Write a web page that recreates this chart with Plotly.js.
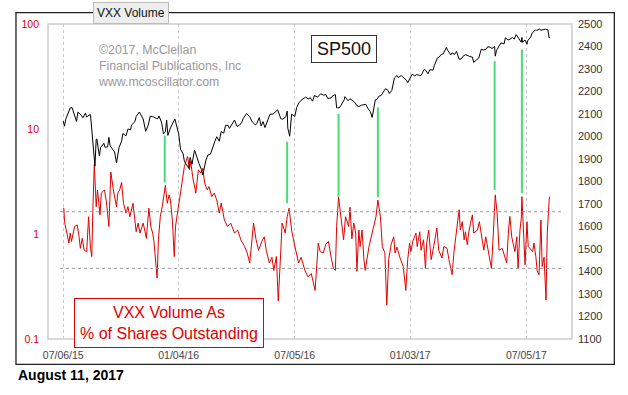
<!DOCTYPE html>
<html>
<head>
<meta charset="utf-8">
<script src="https://cdn.plot.ly/plotly-3.0.1.min.js"></script>
<style>
html,body{margin:0;padding:0;background:#fff;}
#chart{width:628px;height:395px;}
</style>
</head>
<body>
<div id="chart"></div>
<script>
// ---- S&P 500 (right axis) ----
const spxDates = ["2015-07-06","2015-07-08","2015-07-10","2015-07-14","2015-07-17","2015-07-20","2015-07-23","2015-07-27","2015-07-29","2015-07-31",
"2015-08-04","2015-08-06","2015-08-10","2015-08-12","2015-08-14","2015-08-18","2015-08-20","2015-08-21","2015-08-24","2015-08-25","2015-08-27","2015-08-28",
"2015-09-01","2015-09-03","2015-09-08","2015-09-10","2015-09-14","2015-09-16","2015-09-18","2015-09-22","2015-09-25","2015-09-28","2015-09-30",
"2015-10-02","2015-10-06","2015-10-08","2015-10-13","2015-10-16","2015-10-20","2015-10-22","2015-10-27","2015-10-29",
"2015-11-03","2015-11-05","2015-11-09","2015-11-13","2015-11-17","2015-11-20","2015-11-24","2015-11-30",
"2015-12-02","2015-12-04","2015-12-08","2015-12-11","2015-12-14","2015-12-16","2015-12-18","2015-12-22","2015-12-29",
"2016-01-04","2016-01-07","2016-01-11","2016-01-13","2016-01-15","2016-01-20","2016-01-22","2016-01-25","2016-01-29",
"2016-02-02","2016-02-05","2016-02-09","2016-02-11","2016-02-16","2016-02-19","2016-02-23","2016-02-26",
"2016-03-01","2016-03-04","2016-03-08","2016-03-11","2016-03-15","2016-03-18","2016-03-22","2016-03-24","2016-03-29",
"2016-04-01","2016-04-05","2016-04-08","2016-04-12","2016-04-15","2016-04-20","2016-04-25","2016-04-29",
"2016-05-04","2016-05-06","2016-05-10","2016-05-13","2016-05-16","2016-05-19","2016-05-24","2016-05-27",
"2016-06-01","2016-06-08","2016-06-13","2016-06-16","2016-06-21","2016-06-23","2016-06-24","2016-06-27","2016-06-30",
"2016-07-05","2016-07-08","2016-07-12","2016-07-15","2016-07-20","2016-07-22","2016-07-27","2016-07-29",
"2016-08-02","2016-08-05","2016-08-10","2016-08-15","2016-08-19","2016-08-23","2016-08-26","2016-08-31",
"2016-09-02","2016-09-07","2016-09-09","2016-09-13","2016-09-16","2016-09-21","2016-09-22","2016-09-27","2016-09-30",
"2016-10-05","2016-10-07","2016-10-11","2016-10-14","2016-10-18","2016-10-21","2016-10-25","2016-10-28",
"2016-11-01","2016-11-04","2016-11-07","2016-11-09","2016-11-11","2016-11-15","2016-11-18","2016-11-22","2016-11-25","2016-11-29",
"2016-12-01","2016-12-05","2016-12-07","2016-12-09","2016-12-13","2016-12-15","2016-12-20","2016-12-23","2016-12-28","2016-12-30",
"2017-01-04","2017-01-06","2017-01-10","2017-01-13","2017-01-18","2017-01-20","2017-01-25","2017-01-27","2017-01-31",
"2017-02-03","2017-02-08","2017-02-10","2017-02-15","2017-02-17","2017-02-21","2017-02-24",
"2017-03-01","2017-03-03","2017-03-08","2017-03-10","2017-03-14","2017-03-17","2017-03-21","2017-03-24","2017-03-28","2017-03-31",
"2017-04-04","2017-04-07","2017-04-11","2017-04-13","2017-04-18","2017-04-21","2017-04-25","2017-04-28",
"2017-05-03","2017-05-05","2017-05-09","2017-05-12","2017-05-16","2017-05-17","2017-05-19","2017-05-24","2017-05-26","2017-05-31",
"2017-06-02","2017-06-06","2017-06-09","2017-06-13","2017-06-16","2017-06-19","2017-06-23","2017-06-27","2017-06-28","2017-06-29",
"2017-07-03","2017-07-06","2017-07-07","2017-07-12","2017-07-14","2017-07-19","2017-07-21","2017-07-26","2017-07-28",
"2017-08-01","2017-08-04","2017-08-08","2017-08-10","2017-08-11"];
const spxValues = [2068,2046,2077,2108,2127,2128,2102,2067,2108,2104,
2093,2083,2104,2086,2092,2097,2036,1971,1893,1868,1988,1989,
1914,1951,1970,1952,1954,1996,1958,1943,1931,1882,1920,
1951,1979,2013,2003,2033,2030,2052,2066,2089,
2109,2099,2078,2023,2050,2089,2089,2080,
2079,2091,2063,2012,2021,2073,2005,2038,2078,
2012,1943,1923,1890,1880,1859,1907,1877,1940,
1903,1880,1852,1829,1895,1918,1921,1948,
1978,1999,1979,2022,2015,2050,2049,2036,2056,
2073,2045,2048,2061,2081,2102,2088,2065,
2051,2057,2084,2047,2066,2040,2077,2099,
2100,2119,2079,2077,2088,2113,2037,2001,2099,
2089,2129,2152,2161,2173,2175,2166,2173,
2157,2182,2175,2190,2184,2186,2169,2171,
2179,2186,2128,2127,2139,2163,2177,2159,2168,
2160,2153,2137,2133,2139,2141,2143,2126,
2111,2085,2132,2163,2164,2180,2182,2203,2213,2205,
2191,2205,2241,2260,2271,2262,2271,2264,2250,2239,
2270,2277,2269,2275,2272,2271,2298,2295,2279,
2297,2295,2316,2350,2351,2365,2367,
2396,2383,2363,2372,2365,2378,2344,2344,2359,2363,
2360,2355,2353,2329,2342,2349,2388,2384,
2389,2399,2397,2391,2400,2357,2382,2404,2416,2412,
2439,2429,2432,2440,2433,2453,2438,2419,2440,2419,
2429,2410,2425,2443,2459,2473,2472,2477,2472,
2476,2477,2474,2438,2441];

// ---- VXX volume as % of shares outstanding (left log axis) ----
const vxxDates = [
"2015-07-06","2015-07-07","2015-07-08","2015-07-15","2015-07-17","2015-07-19","2015-07-24","2015-07-28","2015-07-31","2015-08-02",
"2015-08-05","2015-08-08","2015-08-12","2015-08-15","2015-08-18","2015-08-20","2015-08-22","2015-08-24","2015-08-27","2015-08-29",
"2015-09-02","2015-09-04","2015-09-09","2015-09-12","2015-09-16","2015-09-19","2015-09-23","2015-09-24","2015-09-28","2015-09-30",
"2015-10-03","2015-10-06","2015-10-09","2015-10-13","2015-10-16","2015-10-19","2015-10-24","2015-10-29","2015-11-01","2015-11-04",
"2015-11-09","2015-11-12","2015-11-14","2015-11-18","2015-11-21","2015-11-24","2015-11-26","2015-12-01","2015-12-03","2015-12-06",
"2015-12-09","2015-12-14","2015-12-17","2015-12-20","2015-12-22","2015-12-25","2015-12-28","2015-12-30","2016-01-05","2016-01-08",
"2016-01-13","2016-01-18","2016-01-21","2016-01-23","2016-01-26","2016-01-31","2016-02-04","2016-02-08","2016-02-11","2016-02-14",
"2016-02-18","2016-02-21","2016-02-25","2016-02-29","2016-03-04","2016-03-08","2016-03-11","2016-03-16","2016-03-21","2016-03-26",
"2016-04-01","2016-04-06","2016-04-11","2016-04-17","2016-04-21","2016-04-25","2016-04-28","2016-05-01","2016-05-05","2016-05-09",
"2016-05-14","2016-05-18","2016-05-21","2016-05-26","2016-05-30","2016-06-02","2016-06-06","2016-06-09","2016-06-13","2016-06-15",
"2016-06-20","2016-06-23","2016-06-26","2016-06-30","2016-07-04","2016-07-11","2016-07-15","2016-07-21","2016-07-26","2016-07-31",
"2016-08-06","2016-08-09","2016-08-11","2016-08-14","2016-08-19","2016-08-23","2016-08-27","2016-09-01","2016-09-04","2016-09-07",
"2016-09-09","2016-09-12","2016-09-16","2016-09-20","2016-09-23","2016-09-28","2016-09-30","2016-10-03","2016-10-06","2016-10-09",
"2016-10-11","2016-10-14","2016-10-16","2016-10-19","2016-10-22","2016-10-24","2016-10-30","2016-11-04","2016-11-10","2016-11-13",
"2016-11-17","2016-11-20","2016-11-24","2016-11-27","2016-11-30","2016-12-04","2016-12-08","2016-12-10","2016-12-13","2016-12-18",
"2016-12-23","2016-12-27","2016-12-30","2017-01-02","2017-01-04","2017-01-07","2017-01-12","2017-01-14","2017-01-18","2017-01-20",
"2017-01-24","2017-01-27","2017-01-29","2017-02-01","2017-02-05","2017-02-09","2017-02-14","2017-02-17","2017-02-22","2017-02-25",
"2017-03-02","2017-03-05","2017-03-10","2017-03-13","2017-03-18","2017-03-21","2017-03-23","2017-03-26","2017-03-29","2017-03-31",
"2017-04-03","2017-04-05","2017-04-08","2017-04-11","2017-04-13","2017-04-19","2017-04-22","2017-04-26","2017-04-29","2017-05-02",
"2017-05-05","2017-05-11","2017-05-14","2017-05-16","2017-05-17","2017-05-20","2017-05-23","2017-05-28","2017-06-04","2017-06-07",
"2017-06-09","2017-06-12","2017-06-17","2017-06-20","2017-06-22","2017-06-25","2017-06-27","2017-06-28","2017-06-30","2017-07-03",
"2017-07-06","2017-07-08","2017-07-15","2017-07-17","2017-07-20","2017-07-22","2017-07-25","2017-07-28","2017-07-30","2017-08-02",
"2017-08-05","2017-08-07","2017-08-10","2017-08-11"];
const vxxValues = [
1.76,1.76,1.31,0.82,1.02,0.85,1.18,1.22,0.94,0.73,
0.91,0.70,0.68,1.46,0.73,0.61,1.96,4.6,1.82,2.63,
1.52,2.45,2.63,2.04,1.18,3.9,2.63,2.45,1.82,2.45,
2.63,3.1,1.96,1.58,1.82,1.46,1.96,1.05,1.27,1.02,
1.27,1.05,0.91,1.76,1.18,1.02,0.85,0.38,0.88,1.46,
1.82,2.9,1.96,2.36,2.1,1.36,0.61,1.18,2.11,2.94,
4.39,5.47,4.08,4.9,3.52,2.45,4.08,3.8,4.24,3.05,
2.63,2.83,2.27,2.45,2.11,1.58,1.97,1.36,1.18,1.27,
1.02,1.09,0.88,0.76,0.66,0.53,0.82,1.27,0.88,0.70,
0.85,0.94,0.70,0.53,0.6,0.45,0.61,0.23,0.70,1.27,
1.02,1.46,1.76,1.09,0.82,0.53,0.6,0.45,0.39,0.42,
0.29,0.57,0.82,0.68,0.66,0.8,0.85,0.57,0.47,0.45,
1.18,2.25,1.46,0.88,1.46,1.18,1.8,0.9,1.27,1.02,
0.44,1.09,0.76,1.09,0.57,0.45,0.76,1.02,1.46,2.11,
1.46,0.76,0.66,0.21,0.57,0.8,0.94,0.66,0.75,0.59,
0.49,0.29,0.57,0.82,0.68,0.85,1.02,0.76,1.05,0.70,
0.88,0.47,0.82,1.09,0.57,0.76,1.14,0.70,0.59,0.76,
0.73,0.57,0.41,0.68,1.18,1.70,1.09,1.31,0.88,1.05,
0.79,1.02,1.27,1.52,1.02,1.09,1.31,0.88,0.70,0.94,
0.76,0.47,1.02,1.89,2.36,1.58,0.70,0.73,0.53,1.09,
1.47,0.94,0.68,0.94,0.47,1.09,1.4,2.27,1.27,0.51,
1.31,0.76,0.68,0.82,0.61,0.45,0.41,1.36,0.49,0.6,
0.235,1.02,2.11,2.27];

// ---- markers / reference levels ----
const greenDates = ["2015-12-13","2016-06-23","2016-09-12","2016-11-13","2017-05-16","2017-06-28"];
const greenTop =    [2004,1977,2100,2129,2335,2386];
const greenBottom = [1795,1703,1732,1730,1762,1748];
const refLevels = [1.63, 0.47];
const refStart = "2015-07-01", refEnd = "2017-08-29";

const xTickVals = ["2015-07-06","2016-01-04","2016-07-05","2017-01-03","2017-07-05"];
const xTickText = ["07/06/15","01/04/16","07/05/16","01/03/17","07/05/17"];
const yTickVals = [0.1,1,10,100];
const yTickText = ["0.1","1","10","100"];

const FONT = "Arial, 'Liberation Sans', sans-serif";

const traces = [
  {x: spxDates, y: spxValues, yaxis: "y2", type: "scatter", mode: "lines",
   line: {color: "#000000", width: 1}, hoverinfo: "skip"},
  {x: vxxDates, y: vxxValues, yaxis: "y", type: "scatter", mode: "lines",
   line: {color: "#e00000", width: 1}, hoverinfo: "skip"}
];

const shapes = [];
shapes.push({type: "rect", xref: "paper", yref: "paper", x0: 0, x1: 1, y0: 0, y1: 1,
  line: {color: "#cccccc", width: 1.5}, layer: "below"});
shapes.push({type: "rect", xref: "paper", yref: "paper", x0: -0.0611, x1: 1.0808, y0: -0.0804, y1: 1.0359,
  line: {color: "#222222", width: 1.3}});
refLevels.forEach(v => shapes.push({type: "line", xref: "x", yref: "y", x0: refStart, x1: refEnd,
  y0: v, y1: v, line: {color: "#999999", width: 1, dash: "dot"}}));
greenDates.forEach((d, i) => shapes.push({type: "line", xref: "x", yref: "y2", x0: d, x1: d,
  y0: greenBottom[i], y1: greenTop[i], line: {color: "#44dd77", width: 2}}));

const annotations = [
  {xref: "paper", yref: "paper", x: 0.1585, y: 1.035, text: "VXX Volume", showarrow: false,
   font: {family: FONT, size: 12, color: "#111"}, bgcolor: "#eeeeee", bordercolor: "#bbbbbb",
   borderwidth: 1, borderpad: 3, xanchor: "center", yanchor: "middle"},
  {xref: "paper", yref: "paper", x: 0.091, y: 0.945, xanchor: "left", yanchor: "top", align: "left",
   text: "©2017, McClellan<br>Financial Publications, Inc<br>www.mcoscillator.com", showarrow: false,
   font: {family: FONT, size: 12.3, color: "#999999"}},
  {xref: "paper", yref: "paper", x: (343.5-48)/523.7, y: (338.7-49.3)/314.7, text: "SP500", showarrow: false,
   font: {family: FONT, size: 18, color: "#111"}, bgcolor: "#ffffff", bordercolor: "#333333",
   borderwidth: 1, borderpad: 3, width: 58, height: 20, xanchor: "center", yanchor: "middle"},
  {xref: "paper", yref: "paper", x: (168.7-48)/523.7, y: (338.7-322.5)/314.7,
   text: "VXX Volume As<br>% of Shares Outstanding", showarrow: false,
   font: {family: FONT, size: 16, color: "#e00000"}, bgcolor: "#ffffff", bordercolor: "#e00000",
   borderwidth: 1, borderpad: 4, width: 180, height: 40, xanchor: "center", yanchor: "middle"},
  {xref: "paper", yref: "paper", x: (16-48)/523.7, y: (338.7-375)/314.7, xanchor: "left", yanchor: "middle",
   text: "<b>August 11, 2017</b>", showarrow: false, font: {family: FONT, size: 14, color: "#000"}}
];

const layout = {
  width: 628, height: 395,
  margin: {l: 48, r: 56.3, t: 24, b: 56.3},
  paper_bgcolor: "#ffffff", plot_bgcolor: "#ffffff",
  showlegend: false,
  font: {family: FONT},
  xaxis: {type: "date", range: ["2015-06-12", "2017-09-15"], tickmode: "array",
    tickvals: xTickVals, ticktext: xTickText, showgrid: true, gridcolor: "#c8c8c8", griddash: "dot",
    gridwidth: 1, zeroline: false, showline: false, ticks: "",
    tickfont: {family: FONT, size: 10.5, color: "#444"}, ticklabelstandoff: 8},
  yaxis: {type: "log", range: [-1, 2], tickmode: "array", tickvals: yTickVals, ticktext: yTickText,
    showgrid: false, zeroline: false, showline: false, ticks: "",
    tickfont: {family: FONT, size: 10.5, color: "#dd0000"}, ticklabelstandoff: 8},
  yaxis2: {overlaying: "y", side: "right", range: [1100, 2500], dtick: 100, tick0: 1100,
    showgrid: false, zeroline: false, showline: false, ticks: "",
    tickfont: {family: FONT, size: 11, color: "#333"}, ticklabelstandoff: 5},
  shapes: shapes,
  annotations: annotations
};

Plotly.newPlot("chart", traces, layout, {staticPlot: true, displayModeBar: false});
</script>
</body>
</html>
